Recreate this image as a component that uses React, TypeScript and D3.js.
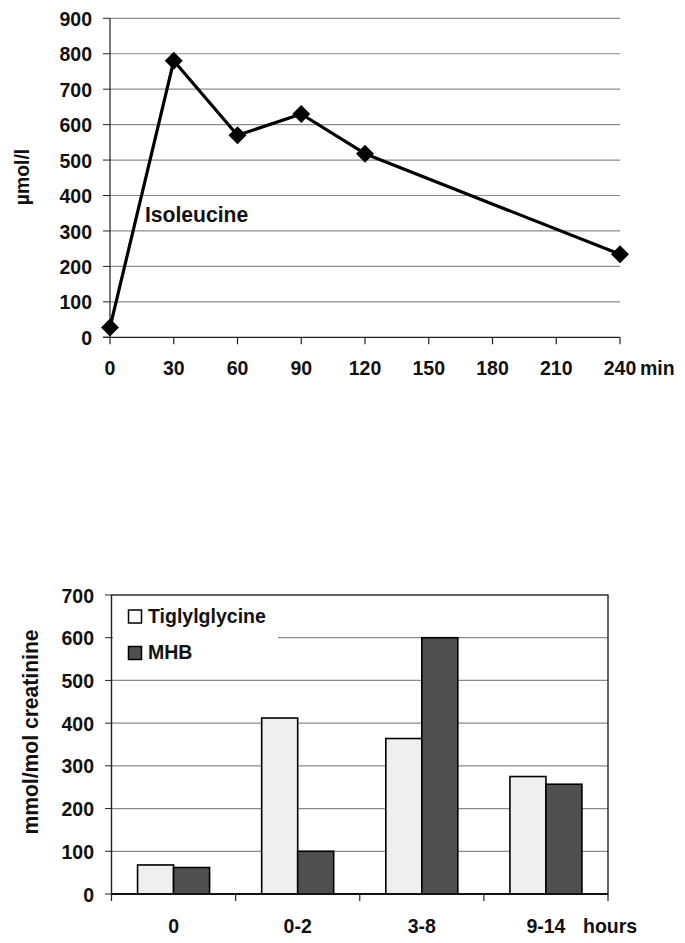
import React from "react";
import * as d3 from "d3";

// ---- Top chart data (Isoleucine, µmol/l vs minutes) ----
const isoTimes = [0, 30, 60, 90, 120, 240];
const isoValues = [28, 780, 570, 630, 518, 234];
const topXTicks = [0, 30, 60, 90, 120, 150, 180, 210, 240];
const topYTicks = [0, 100, 200, 300, 400, 500, 600, 700, 800, 900];

// ---- Bottom chart data (mmol/mol creatinine vs hours) ----
const periods = ["0", "0-2", "3-8", "9-14"];
const tiglylglycine = [68, 412, 364, 275];
const mhb = [62, 100, 600, 257];
const bottomYTicks = [0, 100, 200, 300, 400, 500, 600, 700];
const seriesNames = ["Tiglylglycine", "MHB"];

const FONT = "'Liberation Sans', Arial, Helvetica, sans-serif";
const GRID = "#8a8a8a";
const LIGHT = "#efefef";
const DARK = "#4f4f4f";

type TProps = {
  x: number;
  y: number;
  size: number;
  sx?: number;
  rot?: number;
  anchor?: "start" | "middle" | "end";
  dy?: string;
  children: React.ReactNode;
};
function T({ x, y, size, sx = 0.93, rot = 0, anchor = "start", dy, children }: TProps) {
  return (
    <text
      transform={`translate(${x},${y}) rotate(${rot}) scale(${sx},1)`}
      textAnchor={anchor}
      fontSize={size}
      dy={dy}
      fill="#111"
    >
      {children}
    </text>
  );
}

export default function App() {
  // Top scales
  const xT = d3.scaleLinear().domain([0, 240]).range([110, 620]);
  const yT = d3.scaleLinear().domain([0, 900]).range([337.3, 18.3]);
  const line = d3
    .line<number>()
    .x((_, i) => xT(isoTimes[i]))
    .y((d) => yT(d));

  // Bottom scales
  const xB = d3.scaleBand<string>().domain(periods).range([111.5, 608]).padding(0);
  const yB = d3.scaleLinear().domain([0, 700]).range([894, 595]);
  const barW = 36;
  const bw = xB.bandwidth();

  const diamond = (cx: number, cy: number, r: number) =>
    `M${cx},${cy - r}L${cx + r},${cy}L${cx},${cy + r}L${cx - r},${cy}Z`;

  return (
    <svg
      width={685}
      height={943}
      style={{ position: "absolute", left: 0, top: 0, background: "#fff" }}
      fontFamily={FONT}
      fontWeight="bold"
    >
      <rect x={0} y={0} width={685} height={943} fill="#fff" />

      {/* ===== TOP CHART ===== */}
      {topYTicks.map((t) => (
        <g key={"tg" + t}>
          {t > 0 && (
            <line x1={xT(0)} x2={xT(240)} y1={yT(t)} y2={yT(t)} stroke={GRID} strokeWidth={1.2} />
          )}
          <line x1={xT(0) - 7} x2={xT(0)} y1={yT(t)} y2={yT(t)} stroke="#222" strokeWidth={1} />
          <T x={92} y={yT(t)} dy="0.36em" anchor="end" size={21}>
            {t}
          </T>
        </g>
      ))}
      <line x1={xT(0)} x2={xT(0)} y1={yT(900)} y2={yT(0)} stroke="#222" strokeWidth={1.2} />
      <line x1={xT(0) - 7} x2={xT(240)} y1={yT(0)} y2={yT(0)} stroke="#222" strokeWidth={1.2} />
      {topXTicks.map((t) => (
        <g key={"tx" + t}>
          <line x1={xT(t)} x2={xT(t)} y1={yT(0)} y2={yT(0) + 7} stroke="#222" strokeWidth={1.2} />
          <T x={xT(t)} y={375} anchor="middle" size={21}>
            {t}
          </T>
        </g>
      ))}
      <T x={640} y={375} size={21}>
        min
      </T>
      <T x={29} y={177} rot={-90} anchor="middle" size={20} sx={0.97}>
        µmol/l
      </T>
      <path d={line(isoValues) || ""} fill="none" stroke="#000" strokeWidth={3.2} strokeLinejoin="round" />
      {isoValues.map((v, i) => (
        <path key={"m" + i} d={diamond(xT(isoTimes[i]), yT(v), 9)} fill="#000" />
      ))}
      <T x={145} y={222} size={22} sx={0.96}>
        Isoleucine
      </T>

      {/* ===== BOTTOM CHART ===== */}
      {bottomYTicks.map((t) => (
        <g key={"bg" + t}>
          {t > 0 && t < 700 && (
            <line x1={111.5} x2={608} y1={yB(t)} y2={yB(t)} stroke={GRID} strokeWidth={1.2} />
          )}
          <line x1={105} x2={111.5} y1={yB(t)} y2={yB(t)} stroke="#222" strokeWidth={1} />
          <T x={94} y={yB(t)} dy="0.36em" anchor="end" size={21}>
            {t}
          </T>
        </g>
      ))}
      {/* legend background */}
      <rect x={113} y={597} width={165} height={66} fill="#fff" />
      {/* plot border */}
      <rect x={111.5} y={595} width={608 - 111.5} height={894 - 595} fill="none" stroke="#222" strokeWidth={1.4} />
      {/* bars */}
      {periods.map((p, i) => {
        const c = (xB(p) || 0) + bw / 2;
        return (
          <g key={"b" + p}>
            <rect
              x={c - barW}
              y={yB(tiglylglycine[i])}
              width={barW}
              height={yB(0) - yB(tiglylglycine[i])}
              fill={LIGHT}
              stroke="#000"
              strokeWidth={1.6}
            />
            <rect
              x={c}
              y={yB(mhb[i])}
              width={barW}
              height={yB(0) - yB(mhb[i])}
              fill={DARK}
              stroke="#000"
              strokeWidth={1.6}
            />
          </g>
        );
      })}
      <line x1={111.5} x2={608} y1={yB(0)} y2={yB(0)} stroke="#111" strokeWidth={1.8} />
      {/* x ticks at band boundaries */}
      {[...periods.map((p) => xB(p) || 0), 608].map((x, i) => (
        <line key={"bt" + i} x1={x} x2={x} y1={yB(0)} y2={yB(0) + 7} stroke="#222" strokeWidth={1.2} />
      ))}
      {periods.map((p) => (
        <T key={"bl" + p} x={(xB(p) || 0) + bw / 2} y={933} anchor="middle" size={21}>
          {p}
        </T>
      ))}
      <T x={583} y={933} size={21}>
        hours
      </T>
      <T x={38} y={732} rot={-90} anchor="middle" size={22} sx={0.96}>
        mmol/mol creatinine
      </T>
      {/* legend */}
      <rect x={128.5} y={610} width={13} height={13} fill="#fff" stroke="#000" strokeWidth={1.5} />
      <T x={148} y={622.5} size={21}>
        {seriesNames[0]}
      </T>
      <rect x={128.5} y={646.5} width={13} height={13} fill={DARK} stroke="#000" strokeWidth={1.5} />
      <T x={148} y={659} size={21}>
        {seriesNames[1]}
      </T>
    </svg>
  );
}
